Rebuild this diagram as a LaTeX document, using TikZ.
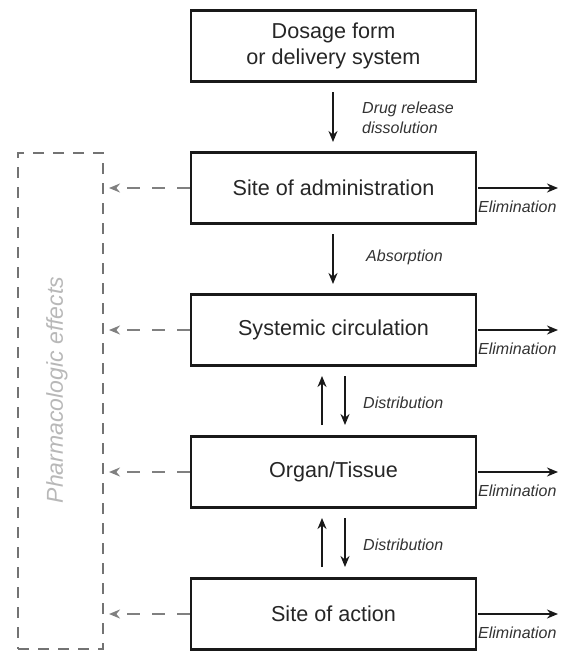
\documentclass[tikz,border=0pt]{standalone}
\usepackage{fontspec}
\setmainfont{Liberation Sans}
\usetikzlibrary{arrows.meta}
\tikzset{
  stagebox/.style={draw=black!90, line width=2.2pt, minimum width=285pt, minimum height=71pt, inner sep=0pt, align=center, text=black!85, font=\fontsize{21.6}{26}\selectfont},
  lbl/.style={font=\fontsize{16}{20}\selectfont\itshape, text=black!80, inner sep=0pt, align=left},
  flow/.style={draw=black!90, line width=2.2pt, -{Stealth[length=11pt,width=9pt]}},
  effect/.style={draw=black!50, line width=2.6pt, dash pattern=on 13pt off 12pt, -{Stealth[length=11pt,width=9pt]}},
}
\begin{document}
\begin{tikzpicture}[x=1pt,y=1pt]
\useasboundingbox (0,0) rectangle (564,-651);
% boxes
\node[stagebox] (dose) at (333.5,-46) {Dosage form\\or delivery system};
\node[stagebox] (admin) at (333.5,-188) {Site of administration};
\node[stagebox] (circ) at (333.5,-330) {Systemic circulation};
\node[stagebox] (organ) at (333.5,-472) {Organ/Tissue};
\node[stagebox] (action) at (333.5,-614) {Site of action};
% pharmacologic effects box
\node[draw=black!55, line width=2.2pt, dash pattern=on 11pt off 9pt, minimum width=85pt, minimum height=496pt, inner sep=0pt] (pharm) at (60.5,-401) {};
\node[rotate=90, font=\fontsize{23}{27}\selectfont\itshape, text=black!28] (pharmtext) at (57,-390) {Pharmacologic effects};
% vertical arrows
\coordinate (a1s) at (333,-92); \coordinate (a1e) at (333,-142);
\draw[flow] (a1s) -- (a1e);
\node[lbl, anchor=west] (l1) at (362,-118) {Drug release\\dissolution};
\coordinate (a2s) at (333,-234); \coordinate (a2e) at (333,-284);
\draw[flow] (a2s) -- (a2e);
\node[lbl, anchor=west] (l2) at (366,-257) {Absorption};
\coordinate (a3u1) at (322,-425); \coordinate (a3u2) at (322,-376);
\coordinate (a3d1) at (345,-376); \coordinate (a3d2) at (345,-425);
\draw[flow] (a3u1) -- (a3u2);
\draw[flow] (a3d1) -- (a3d2);
\node[lbl, anchor=west] (l3) at (363,-403) {Distribution};
\coordinate (a4u1) at (322,-567); \coordinate (a4u2) at (322,-518);
\coordinate (a4d1) at (345,-518); \coordinate (a4d2) at (345,-567);
\draw[flow] (a4u1) -- (a4u2);
\draw[flow] (a4d1) -- (a4d2);
\node[lbl, anchor=west] (l4) at (363,-545) {Distribution};
% elimination and effects
\foreach \b/\y in {admin/-188, circ/-330, organ/-472, action/-614}{
  \coordinate (e\b) at (558,\y);
  \draw[flow] (\b.east) ++(1,0) -- (e\b);
  \node[lbl, anchor=west] at (478,\y-19) {Elimination};
  \coordinate (p\b) at (109,\y);
  \draw[effect] (\b.west) -- (p\b);
}
\end{tikzpicture}
\end{document}
